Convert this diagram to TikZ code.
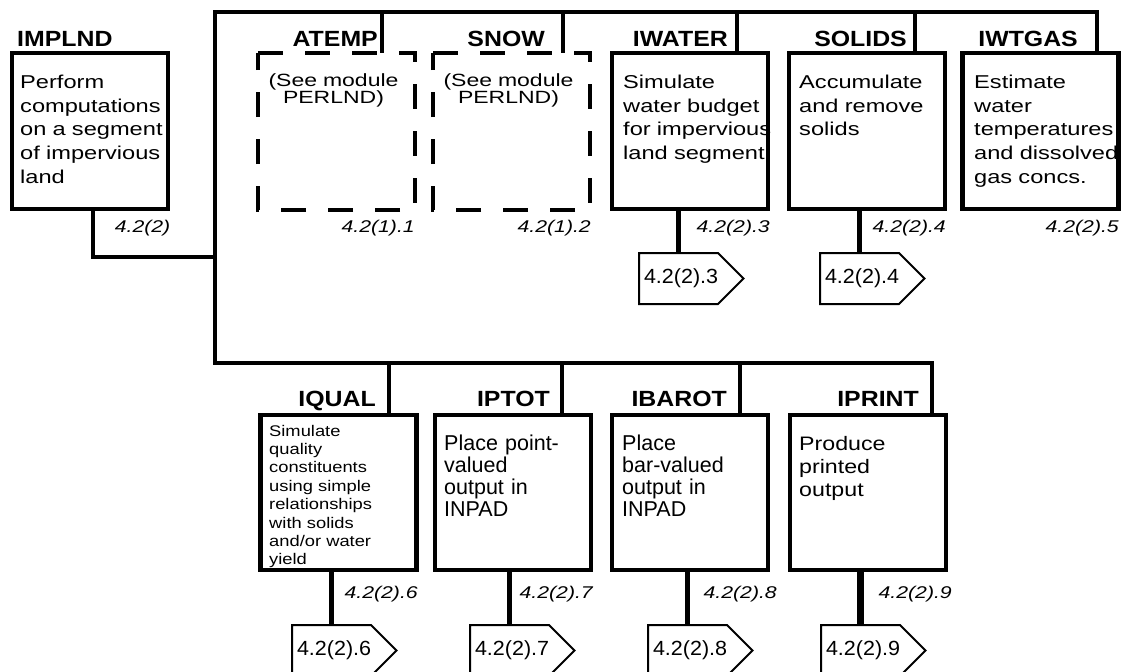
\documentclass[tikz,border=0pt]{standalone}
\usepackage{fontspec}
\setmainfont{Liberation Sans}
\newfontfamily\fbody[FakeStretch=1.27]{Liberation Sans}
\newfontfamily\fplain{Liberation Sans}
\newfontfamily\fprint[FakeStretch=1.19]{Liberation Sans}
\newfontfamily\fsee[FakeStretch=1.3]{Liberation Sans}
\newfontfamily\ftitle[FakeStretch=1.13]{Liberation Sans}
\newfontfamily\flabel[FakeStretch=1.25]{Liberation Sans}
\newfontfamily\ftag[FakeStretch=1.05]{Liberation Sans}
\usetikzlibrary{calc}
\begin{document}
\begin{tikzpicture}[x=1pt,y=-1pt,
  mbox/.style={draw, line width=4.2pt, minimum width=156pt, minimum height=156pt, inner sep=0pt, outer sep=0pt},
  dbox/.style={minimum width=157pt, minimum height=157pt, inner sep=0pt, outer sep=0pt},
  dashframe/.style={line width=4.2pt, dash pattern=on 25pt off 22pt},
  conn/.style={line width=4.2pt},
  thickconn/.style={line width=6.5pt},
  tagline/.style={line width=2pt, line join=miter},
  ttl/.style={font=\ftitle\bfseries\fontsize{22}{22}\selectfont, inner sep=0pt, anchor=base east},
  bodytxt/.style={font=\fbody\fontsize{18.6}{23.7}\selectfont, text width=200pt, align=left, inner sep=0pt, anchor=base west},
  plaintxt/.style={font=\fplain\fontsize{21.5}{22}\selectfont, text width=200pt, align=left, inner sep=0pt, anchor=base west},
  printtxt/.style={font=\fprint\fontsize{19.5}{23.3}\selectfont, text width=200pt, align=left, inner sep=0pt, anchor=base west},
  smalltxt/.style={font=\fprint\fontsize{15.4}{18.4}\selectfont, text width=200pt, align=left, inner sep=0pt, anchor=base west},
  seetxt/.style={font=\fsee\fontsize{17.7}{17.3}\selectfont, text width=150pt, align=center, inner sep=0pt, anchor=base},
  lbl/.style={font=\flabel\itshape\fontsize{17}{17}\selectfont, inner sep=0pt, anchor=base east},
  tagn/.style={minimum width=79pt, minimum height=51pt, text width=69pt, inner xsep=5pt, inner ysep=0pt, align=left, anchor=north west, outer sep=0pt, font=\ftag\fontsize{20.5}{20.5}\selectfont}
]
\clip (0,0) rectangle (1122,672);

% ---------- boxes, top row ----------
\node[mbox] (implnd) at (90,131) {};
\node[dbox] (atemp) at (336.5,131.5) {};
\node[dbox] (snow) at (511.5,131.5) {};
\node[mbox] (iwater) at (690,131) {};
\node[mbox] (solids) at (867,131) {};
\node[mbox] (iwtgas) at (1040.5,131) {};
\draw[dashframe] (atemp.north west) -- (atemp.north east) -- (atemp.south east) -- (atemp.south west) -- cycle;
\draw[dashframe] (snow.north west) -- (snow.north east) -- (snow.south east) -- (snow.south west) -- cycle;

% ---------- boxes, bottom row ----------
\node[mbox, minimum height=155pt] (iqual) at (338.5,492.5) {};
\node[mbox, minimum height=155pt] (iptot) at (513,492.5) {};
\node[mbox, minimum height=155pt] (ibarot) at (690,492.5) {};
\node[mbox, minimum height=155pt] (iprint) at (868,492.5) {};

% ---------- titles ----------
\node[ttl, anchor=base west] (timplnd) at (17,46.5) {IMPLND};
\node[ttl] (tatemp) at (378,46.5) {ATEMP};
\node[ttl] (tsnow) at (545,46.5) {SNOW};
\node[ttl] (tiwater) at (728,46.5) {IWATER};
\node[ttl] (tsolids) at (907,46.5) {SOLIDS};
\node[ttl] (tiwtgas) at (1078,46.5) {IWTGAS};
\node[ttl] (tiqual) at (376,406) {IQUAL};
\node[ttl] (tiptot) at (550,406) {IPTOT};
\node[ttl] (tibarot) at (727,406) {IBAROT};
\node[ttl] (tiprint) at (919,406) {IPRINT};

% ---------- box texts ----------
\node[bodytxt] (ximplnd) at (20,88.5) {Perform\\computations\\on a segment\\of impervious\\land};
\node[seetxt] (xatemp) at (333.5,86) {(See module\\PERLND)};
\node[seetxt] (xsnow) at (508.5,86) {(See module\\PERLND)};
\node[bodytxt] (xiwater) at (623,88.5) {Simulate\\water budget\\for impervious\\land segment};
\node[bodytxt] (xsolids) at (799,88.5) {Accumulate\\and remove\\solids};
\node[bodytxt] (xiwtgas) at (974,88.5) {Estimate\\water\\temperatures\\and dissolved\\gas concs.};
\node[smalltxt] (xiqual) at (269,436) {Simulate\\quality\\constituents\\using simple\\relationships\\with solids\\and/or water\\yield};
\node[plaintxt] (xiptot) at (444,450) {Place point-\\valued\\output in\\INPAD};
\node[plaintxt] (xibarot) at (622,450) {Place\\bar-valued\\output in\\INPAD};
\node[printtxt] (xiprint) at (799,450) {Produce\\printed\\output};

% ---------- section labels ----------
\node[lbl] (limplnd) at (170.5,232) {4.2(2)};
\node[lbl] (latemp) at (415,232) {4.2(1).1};
\node[lbl] (lsnow) at (591,232) {4.2(1).2};
\node[lbl] (liwater) at (770,232) {4.2(2).3};
\node[lbl] (lsolids) at (946,232) {4.2(2).4};
\node[lbl] (liwtgas) at (1119,232) {4.2(2).5};
\node[lbl] (liqual) at (418,598) {4.2(2).6};
\node[lbl] (liptot) at (593,598) {4.2(2).7};
\node[lbl] (libarot) at (777,598) {4.2(2).8};
\node[lbl] (liprint) at (952,598) {4.2(2).9};

% ---------- off-page tags ----------
\node[tagn] (g3) at (639,253) {4.2(2).3};
\node[tagn] (g4) at (820,253) {4.2(2).4};
\node[tagn] (g6) at (292,625) {4.2(2).6};
\node[tagn] (g7) at (470,625) {4.2(2).7};
\node[tagn] (g8) at (648,625) {4.2(2).8};
\node[tagn] (g9) at (821,625) {4.2(2).9};
\foreach \g in {g3,g4,g6,g7,g8,g9}{
  \draw[tagline] (\g.north west) -- (\g.north east) -- ($(\g.east)+(25.5,0)$) -- (\g.south east) -- (\g.south west) -- cycle;
}

% ---------- bus ----------
\coordinate (bt) at (215,12);
\coordinate (bb) at (215,363);
\coordinate (bi) at (215,257);
\coordinate (d1) at (382,12);
\coordinate (d2) at (563,12);
\coordinate (d3) at (737,12);
\coordinate (d4) at (915,12);
\coordinate (d5) at (1097,12);
\coordinate (e1) at (389,363);
\coordinate (e2) at (562,363);
\coordinate (e3) at (740,363);
\coordinate (e4) at (932,363);

\draw[conn] (d5 |- iwtgas.north) -- (d5) -- (bt) -- (bb) -- (e4) -- (e4 |- iprint.north);
\draw[conn] ($(implnd.south)+(3,0)$) |- (bi);
\draw[conn] (d1) -- (d1 |- atemp.north);
\draw[conn] (d2) -- (d2 |- snow.north);
\draw[conn] (d3) -- (d3 |- iwater.north);
\draw[conn] (d4) -- (d4 |- solids.north);
\draw[conn] (e1) -- (e1 |- iqual.north);
\draw[conn] (e2) -- (e2 |- iptot.north);
\draw[conn] (e3) -- (e3 |- ibarot.north);

% ---------- drops to tags ----------
\draw[conn] (iwater.south -| g3.north) -- (g3.north);
\draw[conn] (solids.south -| g4.north) -- (g4.north);
\draw[conn] (iqual.south -| g6.north) -- (g6.north);
\draw[conn] (iptot.south -| g7.north) -- (g7.north);
\draw[conn] (ibarot.south -| g8.north) -- (g8.north);
\draw[thickconn] (iprint.south -| g9.north) -- (g9.north);
\end{tikzpicture}
\end{document}
